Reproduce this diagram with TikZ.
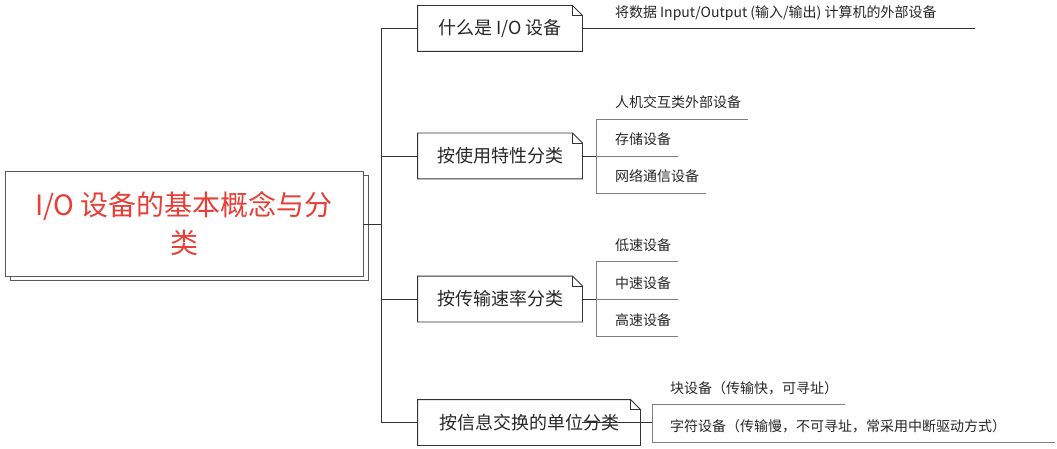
\documentclass[tikz,border=0pt]{standalone}
\usepackage{fontspec}
\setmainfont{Noto Sans CJK SC}
\usetikzlibrary{shadows}
\definecolor{rootred}{RGB}{232,62,56}

\begin{document}
\begin{tikzpicture}[
  x=1pt, y=-1pt,
  line width=0.9pt,
  rootbox/.style={draw=black!65, fill=white, minimum width=358pt, minimum height=105pt,
    align=center, text=rootred, font=\fontsize{28}{38}\selectfont,
    copy shadow={shadow xshift=5pt, shadow yshift=-4pt}},
  catbox/.style={minimum height=45pt, text=black!85, font=\fontsize{18}{22}\selectfont},
  leaf/.style={anchor=south west, inner sep=0pt, text depth=0pt, outer xsep=7pt,
    outer ysep=11pt, text=black!85, font=\fontsize{14}{16}\selectfont},
  trunk/.style={draw=black!80},
  twig/.style={draw=black!50}]
\useasboundingbox (0,0) rectangle (1057,449);

% root and categories
\node[rootbox] (root) at (184,224) {I/O 设备的基本概念与分\\类};
\node[catbox, minimum width=164pt] (c1) at (500,28.5) {什么是 I/O 设备};
\node[catbox, minimum width=164pt] (c2) at (500,156) {按使用特性分类};
\node[catbox, minimum width=164pt] (c3) at (500,299) {按传输速率分类};
\node[catbox, minimum width=222pt] (c4) at (529,422.5) {按信息交换的单位分类};

% note outlines with folded corner
\foreach \n in {c1,c2,c3,c4} {
  \draw[trunk] (\n.south west) -- (\n.north west) -- ([xshift=-10pt]\n.north east)
    -- ([yshift=-10pt]\n.north east) -- (\n.south east) -- cycle;
  \draw[trunk] ([xshift=-10pt]\n.north east) |- ([yshift=-10pt]\n.north east);
}

% trunk
\coordinate (t) at (381,224);
\draw[trunk] (root.east) -- (t);
\draw[trunk] (t |- c1.west) -- (t |- c4.west);
\foreach \n in {c1,c2,c3,c4}
  \draw[trunk] (t |- \n.west) -- (\n.west);

% leaves
\node[leaf] (l11) at (608,28.5) {将数据 Input/Output (输入/输出) 计算机的外部设备};
\coordinate (e11) at (975,28.5);
\draw[trunk] (c1.east) -- (e11);

\coordinate (s2) at (596,156);
\node[leaf] (l21) at (608,119) {人机交互类外部设备};
\node[leaf] (l22) at (608,156) {存储设备};
\node[leaf] (l23) at (608,193) {网络通信设备};

\coordinate (s3) at (596,299);
\node[leaf] (l31) at (608,261) {低速设备};
\node[leaf] (l32) at (608,299) {中速设备};
\node[leaf] (l33) at (608,336) {高速设备};

\coordinate (s4) at (652,422.5);
\node[leaf] (l41) at (663,404) {块设备（传输快，可寻址）};
\node[leaf] (l42) at (663,442) {字符设备（传输慢，不可寻址，常采用中断驱动方式）};
\coordinate (e42) at (1055,442);

\foreach \s/\a/\b in {s2/l21/l23, s3/l31/l33, s4/l41/l42} {
  \draw[trunk] (\s -| c2.east) -- (\s);
  \draw[twig] (\s |- \a.south) -- (\s |- \b.south);
}
\draw[trunk] (c4.east) -- (s4);
\foreach \s/\l in {s2/l21, s2/l22, s2/l23, s3/l31, s3/l32, s3/l33, s4/l41}
  \draw[twig] (\s |- \l.south) -- (\l.south east);
\draw[twig] (s4 |- l42.south) -- (e42);
\end{tikzpicture}
\end{document}
